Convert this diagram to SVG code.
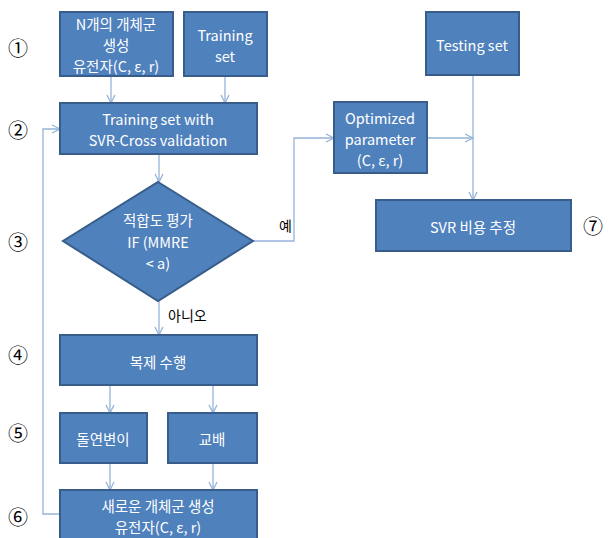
<svg xmlns="http://www.w3.org/2000/svg" width="611" height="538" viewBox="0 0 611 538">
<defs>
<style>
.box{fill:#4F81BD;stroke:#385D8A;stroke-width:2}
.t{fill:#fff;font-family:"Malgun Gothic","Noto Sans CJK KR","Noto Sans",sans-serif;font-size:14.5px;text-anchor:middle;dominant-baseline:central}
.c{fill:none;stroke:#95B3D7;stroke-width:1.3}
.lbl{fill:#000;font-family:"Noto Sans CJK KR","Noto Sans",sans-serif;font-size:14px;dominant-baseline:central}
.num{fill:#000;font-family:"Noto Sans CJK KR","DejaVu Sans",sans-serif;font-size:20px;font-weight:normal;text-anchor:middle;dominant-baseline:central}
</style>
<marker id="ah" viewBox="0 0 10 10" refX="9" refY="5" markerWidth="10" markerHeight="10" markerUnits="userSpaceOnUse" orient="auto">
<path d="M1,1 L9,5 L1,9" fill="none" stroke="#95B3D7" stroke-width="1.3"/>
</marker>
</defs>
<rect width="611" height="538" fill="#fff"/>
<g id="connectors">
<path class="c" d="M111,76 V103" marker-end="url(#ah)"/>
<path class="c" d="M225,76 V103" marker-end="url(#ah)"/>
<path class="c" d="M159,154 V182" marker-end="url(#ah)"/>
<path class="c" d="M253,241 H294 V138 H334" marker-end="url(#ah)"/>
<path class="c" d="M427,138 H473" marker-end="url(#ah)"/>
<path class="c" d="M473,75 V200" marker-end="url(#ah)"/>
<path class="c" d="M159,301 V335" marker-end="url(#ah)"/>
<path class="c" d="M110,385 V413" marker-end="url(#ah)"/>
<path class="c" d="M213,385 V413" marker-end="url(#ah)"/>
<path class="c" d="M110,463 V490" marker-end="url(#ah)"/>
<path class="c" d="M213,463 V490" marker-end="url(#ah)"/>
<path class="c" d="M60,514 H43 V129 H60" marker-end="url(#ah)"/>
<text class="lbl" x="279" y="225">예</text>
<text class="lbl" x="168" y="315">아니오</text>
</g>
<g id="n1"><rect class="box" x="60" y="12" width="113" height="64"/>
<text class="t" x="116" y="23">N개의 개체군</text><text class="t" x="116" y="44">생성</text><text class="t" x="116" y="65">유전자(C, ε, r)</text></g>
<g id="n2"><rect class="box" x="184" y="12" width="83" height="64"/>
<text class="t" x="225" y="34">Training</text><text class="t" x="225" y="55">set</text></g>
<g id="n3"><rect class="box" x="60" y="103" width="197" height="51"/>
<text class="t" x="158" y="118">Training set with</text><text class="t" x="158" y="139">SVR-Cross validation</text></g>
<g id="n4"><polygon class="box" points="158,182 253,241 158,301 63,241"/>
<text class="t" x="158" y="219">적합도 평가</text><text class="t" x="158" y="241">IF (MMRE</text><text class="t" x="158" y="262">&lt; a)</text></g>
<g id="n5"><rect class="box" x="334" y="102" width="93" height="71"/>
<text class="t" x="380" y="117">Optimized</text><text class="t" x="380" y="138">parameter</text><text class="t" x="380" y="159">(C, ε, r)</text></g>
<g id="n6"><rect class="box" x="426" y="12" width="93" height="63"/>
<text class="t" x="472" y="44">Testing set</text></g>
<g id="n7"><rect class="box" x="376" y="200" width="195" height="51"/>
<text class="t" x="473" y="226">SVR 비용 추정</text></g>
<g id="n8"><rect class="box" x="60" y="335" width="197" height="50"/>
<text class="t" x="158" y="361">복제 수행</text></g>
<g id="n9"><rect class="box" x="60" y="413" width="87" height="50"/>
<text class="t" x="103" y="438">돌연변이</text></g>
<g id="n10"><rect class="box" x="168" y="413" width="89" height="50"/>
<text class="t" x="212" y="438">교배</text></g>
<g id="n11"><rect class="box" x="60" y="490" width="197" height="60"/>
<text class="t" x="158" y="505">새로운 개체군 생성</text><text class="t" x="158" y="526">유전자(C, ε, r)</text></g>
<g id="nums">
<text class="num" x="18" y="47">①</text>
<text class="num" x="18" y="129">②</text>
<text class="num" x="18" y="241">③</text>
<text class="num" x="18" y="354">④</text>
<text class="num" x="18" y="432">⑤</text>
<text class="num" x="18" y="516">⑥</text>
<text class="num" x="593" y="225">⑦</text>
</g>
</svg>
